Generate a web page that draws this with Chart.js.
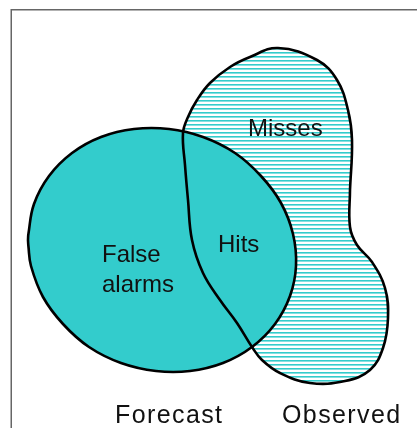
<!DOCTYPE html>
<html><head><meta charset="utf-8">
<script src="https://cdn.jsdelivr.net/npm/chart.js@4.4.0/dist/chart.umd.min.js"></script>
<style>html,body{margin:0;padding:0;background:#fff;overflow:hidden}canvas{display:block}</style>
</head><body>
<canvas id="c" width="417" height="428"></canvas>
<script>
// Forecast region outline (tilted ellipse), closed at its leftmost point
const forecastX = [28, 28.4, 34, 49, 72, 101, 134, 169, 203, 235, 261, 281, 293, 296, 290, 275, 252, 223, 190, 156, 121, 89, 63, 43, 31, 28.4, 28];
const forecastY = [240, 234, 204, 176, 153, 137, 129, 129, 137, 153, 176, 203, 234, 266, 296, 324, 347, 363, 371, 371, 363, 347, 324, 297, 266, 246, 240];
// Observed region outline, closed
const observedX = [350, 350, 357, 372, 385, 388, 383, 370, 345, 310, 280, 262, 252, 237, 220, 203, 192, 188, 185, 183, 188, 197, 210, 230, 250, 278, 317, 337, 348, 352, 350];
const observedY = [190, 227, 245, 262, 288, 318, 348, 370, 381, 383, 373, 360, 347, 323, 300, 273, 240, 200, 165, 133, 117, 100, 83, 67, 57, 48, 60, 80, 110, 140, 190];
// Texts
const regionLabels = ['Misses', 'Hits', 'False', 'alarms'];
const setLabels = ['Forecast', 'Observed'];

// layout (anchor of each text: left x, baseline y) and styles
const regionAnchors = [[248, 136], [218, 252], [102, 262], [102, 292]];
const setAnchors = [[115, 423], [282, 423]];
const TEAL = '#33CCCC';

const toPts = (xs, ys) => xs.map((x, i) => ({x, y: ys[i]}));

const canvas = document.getElementById('c');
const ctx0 = canvas.getContext('2d');
const pc = document.createElement('canvas');
pc.width = 8; pc.height = 4;
const pg = pc.getContext('2d');
pg.fillStyle = '#ffffff'; pg.fillRect(0, 0, 8, 4);
pg.fillStyle = TEAL; pg.fillRect(0, 0, 8, 1);
pg.fillStyle = 'rgba(51,204,204,0.6)'; pg.fillRect(0, 1, 8, 1);
const hatch = ctx0.createPattern(pc, 'repeat');

const framePlugin = {
  id: 'frame',
  beforeDraw(chart) {
    const c = chart.ctx;
    c.save();
    c.strokeStyle = '#666';
    c.lineWidth = 1.5;
    c.beginPath();
    c.moveTo(11.25, 428);
    c.lineTo(11.25, 9.75);
    c.lineTo(417, 9.75);
    c.stroke();
    c.restore();
  }
};

const textPlugin = {
  id: 'texts',
  afterDatasetsDraw(chart) {
    const c = chart.ctx, sx = chart.scales.x, sy = chart.scales.y;
    c.save();
    c.fillStyle = '#111';
    c.textAlign = 'left';
    c.textBaseline = 'alphabetic';
    c.font = '24px "Liberation Sans", Arial, sans-serif';
    regionLabels.forEach((t, i) => {
      c.fillText(t, sx.getPixelForValue(regionAnchors[i][0]), sy.getPixelForValue(regionAnchors[i][1]));
    });
    c.font = '25px "Liberation Sans", Arial, sans-serif';
    c.letterSpacing = '1.4px';
    setLabels.forEach((t, i) => {
      c.fillText(t, sx.getPixelForValue(setAnchors[i][0]), sy.getPixelForValue(setAnchors[i][1]));
    });
    c.restore();
  }
};

new Chart(canvas, {
  type: 'scatter',
  data: {
    datasets: [
      { // observed outline on top
        data: toPts(observedX, observedY),
        showLine: true, fill: false,
        borderColor: '#000', borderWidth: 2.6, tension: 0.4,
        pointRadius: 0, borderJoinStyle: 'round', borderCapStyle: 'round'
      },
      { // forecast ellipse, solid fill
        data: toPts(forecastX, forecastY),
        showLine: true, fill: 'shape', backgroundColor: TEAL,
        borderColor: '#000', borderWidth: 2.6, tension: 0.4,
        pointRadius: 0, borderJoinStyle: 'round', borderCapStyle: 'round'
      },
      { // observed hatched fill underneath
        data: toPts(observedX, observedY),
        showLine: true, fill: 'shape', backgroundColor: hatch,
        borderColor: 'rgba(0,0,0,0)', borderWidth: 0, tension: 0.4,
        pointRadius: 0
      }
    ]
  },
  options: {
    responsive: false,
    animation: false,
    devicePixelRatio: 1,
    layout: {padding: 0},
    events: [],
    scales: {
      x: {type: 'linear', min: 0, max: 417, display: false},
      y: {type: 'linear', min: 0, max: 428, reverse: true, display: false}
    },
    plugins: {legend: {display: false}, tooltip: {enabled: false}}
  },
  plugins: [framePlugin, textPlugin]
});
</script>
</body></html>
